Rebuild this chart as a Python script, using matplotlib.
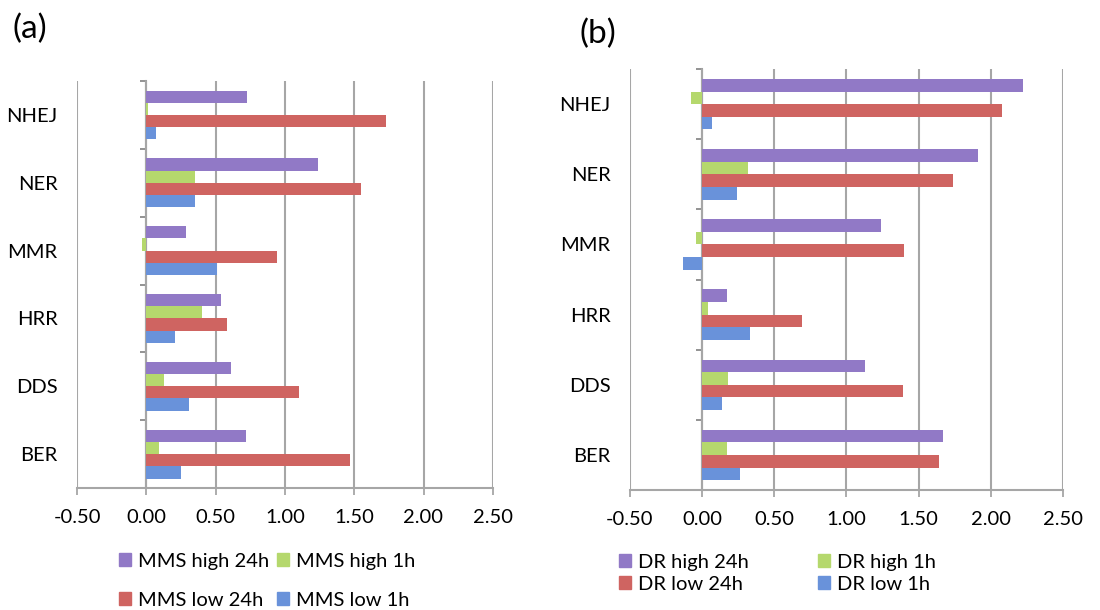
import matplotlib
matplotlib.use("Agg")
import matplotlib.pyplot as plt
from matplotlib.patches import Patch
import numpy as np

plt.rcParams['font.family'] = ['Lato', 'DejaVu Sans']

categories = ["BER", "DDS", "HRR", "MMR", "NER", "NHEJ"]

# Panel (a) values (BER, DDS, HRR, MMR, NER, NHEJ)
mms_high_24h = [0.72, 0.61, 0.54, 0.29, 1.24, 0.73]
mms_high_1h = [0.09, 0.13, 0.40, -0.03, 0.35, 0.01]
mms_low_24h = [1.47, 1.10, 0.58, 0.94, 1.55, 1.73]
mms_low_1h = [0.25, 0.31, 0.21, 0.51, 0.35, 0.07]

# Panel (b) values
dr_high_24h = [1.67, 1.13, 0.17, 1.24, 1.91, 2.22]
dr_high_1h = [0.17, 0.18, 0.04, -0.04, 0.32, -0.08]
dr_low_24h = [1.64, 1.39, 0.69, 1.40, 1.74, 2.08]
dr_low_1h = [0.26, 0.14, 0.33, -0.13, 0.24, 0.07]

xticks = [-0.5, 0.0, 0.5, 1.0, 1.5, 2.0, 2.5]
xticklabels = ["-0.50", "0.00", "0.50", "1.00", "1.50", "2.00", "2.50"]

colors = ["#9179c6", "#b5d86d", "#cf6461", "#6992da"]
grid_c = "#a6a6a6"

fig = plt.figure(figsize=(11, 6.1), dpi=100)


def panel(rect, series, labels):
    ax = fig.add_axes(rect)
    y = np.arange(len(categories))
    h = 0.18
    offs = [1.5 * h, 0.5 * h, -0.5 * h, -1.5 * h]
    for vals, c, o, lab in zip(series, colors, offs, labels):
        ax.barh(y + o, vals, height=h, color=c, edgecolor="none", label=lab, zorder=3)
    ax.set_xlim(-0.5, 2.5)
    ax.set_ylim(-0.5, len(categories) - 0.5)
    ax.set_xticks(xticks)
    ax.set_xticklabels(xticklabels, fontsize=14.5)
    ax.set_yticks(y)
    ax.set_yticklabels(categories, fontsize=14.5)
    ax.tick_params(axis="y", length=0, pad=14)
    ax.tick_params(axis="x", direction="out", length=5, width=1.3, color=grid_c, pad=10)
    for s in ["top", "right", "left"]:
        ax.spines[s].set_visible(False)
    ax.spines["bottom"].set_color(grid_c)
    ax.spines["bottom"].set_linewidth(1.5)
    ax.xaxis.grid(True, color=grid_c, linewidth=1.5, zorder=0)
    ax.set_axisbelow(True)
    # zero axis with category boundary ticks
    sec = ax.secondary_yaxis(1.0 / 6.0)
    sec.set_yticks(np.arange(-0.5, len(categories), 1.0))
    sec.set_yticklabels([])
    sec.tick_params(axis="y", direction="out", length=4, width=1.2, color="#808080")
    sec.spines["left"].set_color("#a0a0a0")
    sec.spines["left"].set_linewidth(1.5)
    return ax


ax_a = panel([0.07, 0.20, 0.378, 0.667],
             [mms_high_24h, mms_high_1h, mms_low_24h, mms_low_1h],
             ["MMS high 24h", "MMS high 1h", "MMS low 24h", "MMS low 1h"])
ax_b = panel([0.5727, 0.1967, 0.3936, 0.690],
             [dr_high_24h, dr_high_1h, dr_low_24h, dr_low_1h],
             ["DR high 24h", "DR high 1h", "DR low 24h", "DR low 1h"])

fig.text(0.011, 0.978, "(a)", fontsize=24, va="top", ha="left")
fig.text(0.527, 0.970, "(b)", fontsize=24, va="top", ha="left")

# Legends: column-wise fill -> order high24, low24, high1, low1
order = [0, 2, 1, 3]
ha = [Patch(color=colors[i]) for i in order]
la_all = ["MMS high 24h", "MMS high 1h", "MMS low 24h", "MMS low 1h"]
la = [la_all[i] for i in order]
fig.legend(ha, la, loc="upper left", bbox_to_anchor=(0.108, 0.094),
           ncol=2, frameon=False, fontsize=14.5, handlelength=0.6, handleheight=0.6,
           handletextpad=0.35, columnspacing=0.4, labelspacing=1.1, borderpad=0,
           borderaxespad=0)

lb_all = ["DR high 24h", "DR high 1h", "DR low 24h", "DR low 1h"]
lb = [lb_all[i] for i in order]
fig.legend(ha, lb, loc="upper left", bbox_to_anchor=(0.563, 0.092),
           ncol=2, frameon=False, fontsize=14.5, handlelength=0.6, handleheight=0.6,
           handletextpad=0.35, columnspacing=3.4, labelspacing=0.25, borderpad=0,
           borderaxespad=0)

fig.savefig("out.png", dpi=100)
